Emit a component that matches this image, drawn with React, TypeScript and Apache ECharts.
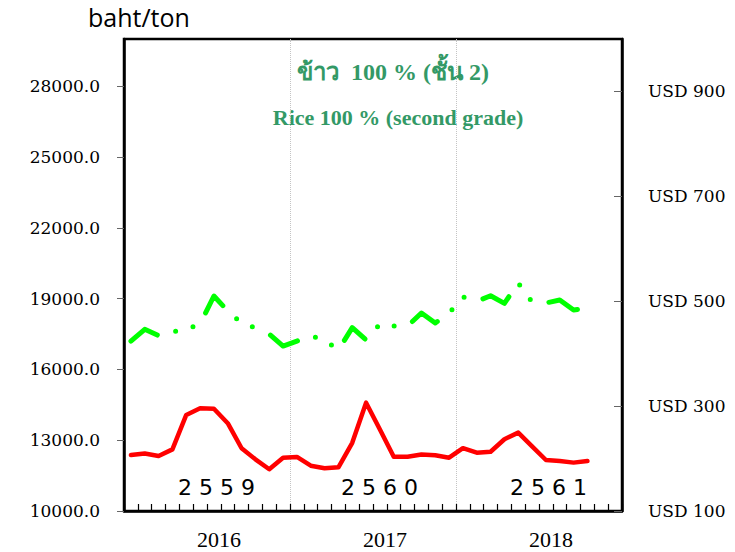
import React, { useEffect, useRef } from "react";
import * as echarts from "echarts";

// 36 monthly categories, Jan 2016 – Dec 2018
const months: string[] = [];
for (const y of [2016, 2017, 2018]) for (let m = 1; m <= 12; m++) months.push(`${y}-${String(m).padStart(2, "0")}`);

const yearLabels: Record<number, string> = { 6: "2016", 18: "2017", 30: "2018" };

// baht/ton, Jan 2016 – Oct 2018
const redSeries = [
  12370, 12440, 12330, 12610, 14070, 14350, 14335, 13720, 12660, 12190, 11770, 12260,
  12290, 11920, 11810, 11850, 12890, 14590, 13450, 12300, 12300, 12390, 12360, 12260,
  12660, 12470, 12510, 13040, 13320, 12740, 12160, 12120, 12050, 12120,
];
const greenSeries = [
  17200, 17700, 17430, 17585, 17710, 17920, 19110, 18475, 17965, 17755, 17500, 16990,
  17200, 17415, 17245, 16820, 17770, 17245, 17920, 17840, 17840, 18390, 17965, 18390,
  19070, 18880, 19120, 18800, 19660, 18855, 18815, 18940, 18520, 18600,
];

const leftTicks = [10000, 13000, 16000, 19000, 22000, 25000, 28000];
const rightTicks = [100, 300, 500, 700, 900];

const thaiTitle = "ข้าว  100 % (ชั้น 2)";
const engTitle = "Rice 100 % (second grade)";
const beYears = [
  { text: "2 5 5 9", x: 178 },
  { text: "2 5 6 0", x: 341 },
  { text: "2 5 6 1", x: 510 },
];

export default function App() {
  const ref = useRef<HTMLDivElement>(null);
  useEffect(() => {
    const chart = echarts.init(ref.current!, null, { renderer: "svg" });
    chart.setOption({
      animation: false,
      backgroundColor: "#fff",
      grid: {
        left: 124, top: 39, width: 498, height: 472,
        show: true, borderColor: "#000", borderWidth: 2.5, backgroundColor: "transparent",
      },
      xAxis: {
        type: "category",
        data: months,
        boundaryGap: true,
        axisLine: { show: true, lineStyle: { color: "#000", width: 2.5 } },
        axisTick: { show: true, inside: true, length: 7, interval: 0, lineStyle: { color: "#000", width: 1.2 } },
        axisLabel: {
          interval: (i: number) => yearLabels[i] !== undefined,
          formatter: (_v: string, i: number) => yearLabels[i] ?? "",
          fontFamily: "Liberation Serif, serif",
          fontSize: 22,
          color: "#000",
          margin: 17,
          padding: [0, 0, 0, 10],
        },
        splitLine: {
          show: true,
          interval: (i: number) => i === 12 || i === 24,
          lineStyle: { color: "#c4c4c4", type: "dotted", width: 1 },
        },
      },
      yAxis: [
        {
          type: "value",
          min: 10000,
          max: 30000,
          position: "left",
          axisLine: { show: true, lineStyle: { color: "#000", width: 2.5 } },
          axisTick: { show: true, length: 7, customValues: leftTicks, lineStyle: { color: "#666", width: 1 } },
          axisLabel: {
            customValues: leftTicks,
            formatter: (v: number) => v.toFixed(1),
            fontFamily: "DejaVu Serif, serif",
            fontSize: 17,
            color: "#000",
            margin: 24,
          },
          splitLine: { show: false },
        },
        {
          type: "value",
          min: 100,
          max: 1000,
          position: "right",
          axisLine: { show: true, lineStyle: { color: "#000", width: 2.5 } },
          axisTick: { show: true, inside: true, length: 8, customValues: rightTicks, lineStyle: { color: "#666", width: 1 } },
          axisLabel: {
            customValues: rightTicks,
            formatter: (v: number) => "USD " + v,
            fontFamily: "DejaVu Serif, serif",
            fontSize: 17,
            color: "#000",
            margin: 26,
          },
          splitLine: { show: false },
        },
      ],
      series: [
        {
          type: "line",
          data: redSeries,
          yAxisIndex: 0,
          symbol: "none",
          lineStyle: { color: "#ff0000", width: 4.5, join: "round", cap: "round" },
        },
        {
          type: "line",
          data: greenSeries,
          yAxisIndex: 0,
          symbol: "none",
          lineStyle: { color: "#00ff00", width: 5, type: [32, 19, 0, 18, 0, 20], cap: "round", join: "round" },
        },
      ],
      graphic: [
        {
          type: "text", left: 88, top: 4,
          style: { text: "baht/ton", font: "25px 'Open Sans', sans-serif", fill: "#000" },
        },
        {
          type: "text", x: 393, y: 72,
          style: { text: thaiTitle, font: "bold 24px 'Liberation Serif', serif", fill: "#339966", textAlign: "center", textVerticalAlign: "middle" },
        },
        {
          type: "text", x: 398, y: 117,
          style: { text: engTitle, font: "bold 22px 'Liberation Serif', serif", fill: "#339966", textAlign: "center", textVerticalAlign: "middle" },
        },
        ...beYears.map((b) => ({
          type: "text", x: b.x, y: 487,
          style: { text: b.text, font: "22px 'DejaVu Sans', sans-serif", fill: "#000", textAlign: "left", textVerticalAlign: "middle" },
        })),
      ],
    });
    return () => chart.dispose();
  }, []);
  return <div ref={ref} style={{ position: "fixed", left: 0, top: 0, width: 735, height: 552 }} />;
}
